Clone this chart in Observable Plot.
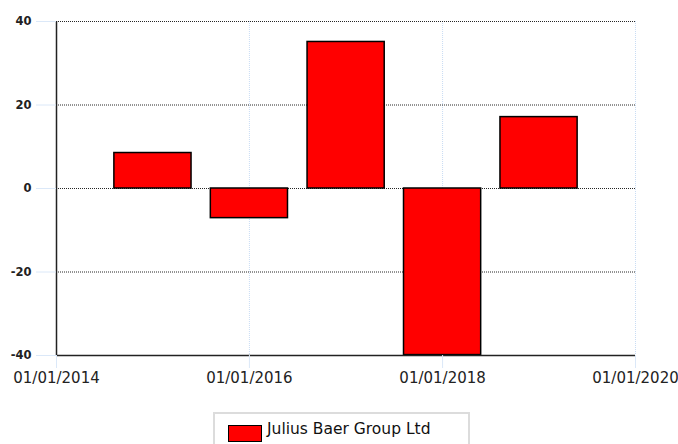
<!DOCTYPE html>
<html>
<head>
<meta charset="utf-8">
<script src="https://cdn.jsdelivr.net/npm/d3@7"></script>
<script src="https://cdn.jsdelivr.net/npm/@observablehq/plot@0.6"></script>
<style>
  html, body { margin: 0; padding: 0; background: #fff; }
  #wrap { position: relative; width: 678px; height: 444px; overflow: hidden; font-family: "DejaVu Sans", sans-serif; }
  #legend { position: absolute; left: 213px; top: 412px; width: 257px; height: 40px; border: 2px solid #dcdcdc; background: #fff; box-sizing: border-box; }
  #legend .sw { position: absolute; left: 13px; top: 11px; width: 32px; height: 15px; background: #ff0000; border: 1px solid #000; }
  #legend .lb { position: absolute; left: 52px; top: 6px; font-size: 15.5px; color: #111; white-space: nowrap; }
</style>
</head>
<body>
<div id="wrap"></div>
<script>
const barDates = ["2015-01-01", "2016-01-01", "2017-01-01", "2018-01-01", "2019-01-01"];
const barValues = [8.5, -7.1, 35.1, -39.9, 17.1];
const xTickDates = ["2014-01-01", "2016-01-01", "2018-01-01", "2020-01-01"];
const yTickValues = [-40, -20, 0, 20, 40];
const seriesName = "Julius Baer Group Ltd";

const halfWidthDays = 146;
const data = barDates.map((d, i) => {
  const date = new Date(d + "T00:00:00Z");
  return {x1: d3.utcDay.offset(date, -halfWidthDays), x2: d3.utcDay.offset(date, halfWidthDays), value: barValues[i]};
});
const xTicks = xTickDates.map(d => new Date(d + "T00:00:00Z"));
const fmt = d3.utcFormat("%d/%m/%Y");

const chart = Plot.plot({
  width: 678,
  height: 405,
  marginLeft: 56,
  marginRight: 43,
  marginTop: 21,
  marginBottom: 50,
  style: {fontFamily: "DejaVu Sans, sans-serif", background: "#fff", overflow: "visible"},
  x: {type: "utc", domain: [xTicks[0], xTicks[xTicks.length - 1]]},
  y: {domain: [-40, 40]},
  marks: [
    Plot.gridX(xTicks, {stroke: "#c8dcf4", strokeOpacity: 1, strokeDasharray: "1,1"}),
    Plot.gridY(yTickValues, {stroke: "#000", strokeOpacity: 0.85, strokeDasharray: "1,1"}),
    Plot.rectY(data, {x1: "x1", x2: "x2", y1: 0, y2: "value", fill: "#ff0000", stroke: "#000", strokeWidth: 1.5}),
    Plot.ruleX([xTicks[0]], {stroke: "#222", strokeWidth: 1.5}),
    Plot.ruleY([-40], {stroke: "#222", strokeWidth: 1.5}),
    Plot.axisY(yTickValues, {anchor: "left", tickSize: 20, tickPadding: 5, stroke: "#dbe8f8", fill: "#222", fontSize: 11.5, fontWeight: 600, tickFormat: d => String(d), label: null}),
    Plot.axisX(xTicks, {anchor: "bottom", tickSize: 13, tickPadding: 4, tickFormat: fmt, stroke: "#dbe8f8", fill: "#222", fontSize: 15, label: null})
  ]
});
const wrap = document.getElementById("wrap");
wrap.appendChild(chart);
const legend = document.createElement("div");
legend.id = "legend";
legend.innerHTML = '<div class="sw"></div><div class="lb"></div>';
legend.querySelector(".lb").textContent = seriesName;
wrap.appendChild(legend);
</script>
</body>
</html>
